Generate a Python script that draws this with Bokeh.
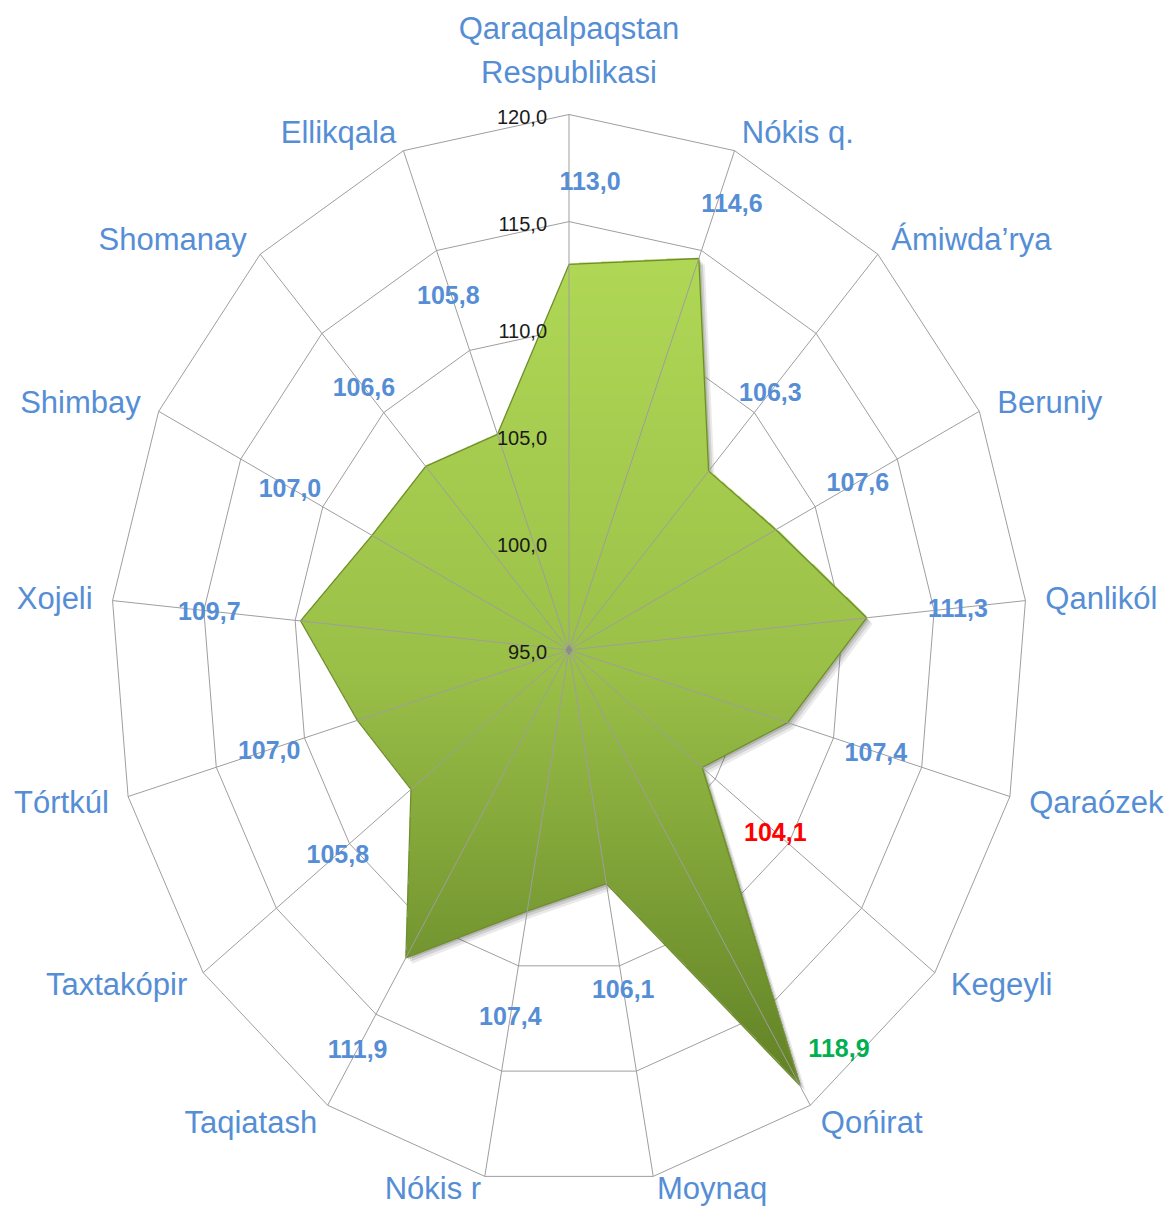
import numpy as np
from bokeh.plotting import figure
from bokeh.models import ColumnDataSource, Range1d
from bokeh.core.properties import value
from bokeh.embed import file_html
from bokeh.resources import INLINE

# ---------------- data ----------------
categories = ["Qaraqalpaqstan\nRespublikasi", "Nókis  q.", "Ámiwda’rya", "Beruniy",
              "Qanlikól", "Qaraózek", "Kegeyli", "Qońirat", "Moynaq", "Nókis r",
              "Taqiatash", "Taxtakópir", "Tórtkúl", "Xojeli", "Shimbay",
              "Shomanay", "Ellikqala"]
values = [113.0, 114.6, 106.3, 107.6, 111.3, 107.4, 104.1, 118.9, 106.1, 107.4,
          111.9, 105.8, 107.0, 109.7, 107.0, 106.6, 105.8]
value_labels = ["113,0", "114,6", "106,3", "107,6", "111,3", "107,4", "104,1", "118,9",
                "106,1", "107,4", "111,9", "105,8", "107,0", "109,7", "107,0",
                "106,6", "105,8"]
ticks = [95, 100, 105, 110, 115, 120]
tick_labels = ["95,0", "100,0", "105,0", "110,0", "115,0", "120,0"]
r_min, r_max = 95, 120

# ---------------- layout / style ----------------
W, H = 1164, 1212
CX, CY = 568.5, 649.5          # centre of radar in canvas pixels
SX, SY = 18.336, 21.42         # pixels per value unit (x, y)
BLUE = "#558ED5"
GRID = "#9E9E9E"
label_colors = [BLUE] * len(values)
label_colors[6] = "#FF0000"
label_colors[7] = "#00B050"
label_moves = {0: (21, 24), 1: (0, 44), 7: (-9, -128), 16: (-16, -39)}

n = len(categories)
theta = 2 * np.pi * np.arange(n) / n
s, c = np.sin(theta), np.cos(theta)
R = r_max - r_min

p = figure(width=W, height=H,
           x_range=Range1d(-CX / SX, (W - CX) / SX),
           y_range=Range1d(-(H - CY) / SY, CY / SY),
           output_backend="svg", toolbar_location=None,
           x_axis_location=None, y_axis_location=None,
           min_border=0, outline_line_color=None, background_fill_color="white")
p.xgrid.grid_line_color = None
p.ygrid.grid_line_color = None

# rings (under the area)
ring_xs, ring_ys = [], []
for t in ticks[1:]:
    rr = t - r_min
    ring_xs.append(list(np.append(rr * s, rr * s[0])))
    ring_ys.append(list(np.append(rr * c, rr * c[0])))
p.multi_line(ring_xs, ring_ys, line_color=GRID, line_width=1)

# polygon
rv = np.array(values) - r_min
px, py = rv * s, rv * c

# shadow
for off, a in [(6, 0.10), (4, 0.14), (2, 0.18)]:
    p.patch(px + off / SX, py - off / SY, fill_color="#303030", fill_alpha=a, line_color=None)

# gradient fill as image
xmin, xmax, ymin, ymax = px.min(), px.max(), py.min(), py.max()
nx = int((xmax - xmin) * SX) + 1
ny = int((ymax - ymin) * SY) + 1
gx = xmin + (np.arange(nx) + 0.5) / nx * (xmax - xmin)
gy = ymin + (np.arange(ny) + 0.5) / ny * (ymax - ymin)
GX, GY = np.meshgrid(gx, gy)
inside = np.zeros(GX.shape, dtype=bool)
j = n - 1
for i in range(n):
    yi, yj, xi, xj = py[i], py[j], px[i], px[j]
    cond = ((yi > GY) != (yj > GY))
    xint = (xj - xi) * (GY - yi) / ((yj - yi) if yj != yi else 1e-12) + xi
    inside ^= cond & (GX < xint)
    j = i
tpos = (ymax - GY) / (ymax - ymin)
stops = [0.0, 0.5, 1.0]
cols = np.array([[176, 216, 86], [155, 192, 72], [98, 130, 38]])
img = np.zeros((ny, nx), dtype=np.uint32)
view = img.view(dtype=np.uint8).reshape((ny, nx, 4))
for k in range(3):
    view[:, :, k] = np.interp(tpos, stops, cols[:, k]).astype(np.uint8)
view[:, :, 3] = np.where(inside, 255, 0).astype(np.uint8)
p.image_rgba(image=[img], x=xmin, y=ymin, dw=xmax - xmin, dh=ymax - ymin)

p.patch(px, py, fill_color=None, line_color="#6F8F2C", line_width=1.3)

# spokes (over the area)
p.segment(x0=np.zeros(n), y0=np.zeros(n), x1=R * s, y1=R * c, line_color=GRID, line_width=1)
p.scatter([0], [0], marker="diamond", size=9, color="#8C8C8C")

# tick labels
tsrc = ColumnDataSource(dict(x=[0] * len(ticks), y=[t - r_min for t in ticks], text=tick_labels))
p.text(x="x", y="y", text="text", source=tsrc, x_offset=-22, y_offset=2,
       text_align="right", text_baseline="middle", text_color="#1A1A1A",
       text_font=value("Liberation Sans Narrow, Liberation Sans"), text_font_size="20px")

# data labels
lr = rv + 5
xo = [label_moves.get(i, (0, 0))[0] for i in range(n)]
yo = [label_moves.get(i, (0, 0))[1] for i in range(n)]
dsrc = ColumnDataSource(dict(x=lr * s, y=lr * c, text=value_labels, color=label_colors, xo=xo, yo=yo))
p.text(x="x", y="y", text="text", source=dsrc, x_offset="xo", y_offset="yo",
       text_align="center", text_baseline="middle", text_color="color",
       text_font=value("Liberation Sans"), text_font_style="bold", text_font_size="25px")

# category labels
aligns, bases, cxo, cyo = [], [], [], []
for i in range(n):
    if abs(s[i]) < 0.01:
        aligns.append("center")
        bases.append("bottom" if c[i] > 0 else "top")
        cxo.append(0)
        cyo.append(-24 if c[i] > 0 else 20)
    else:
        aligns.append("left" if s[i] > 0 else "right")
        bases.append("middle")
        cxo.append(20 * s[i])
        cyo.append(12 if c[i] < -0.95 else -20 * c[i])
csrc = ColumnDataSource(dict(x=R * s, y=R * c, text=categories, align=aligns, base=bases, xo=cxo, yo=cyo))
p.text(x="x", y="y", text="text", source=csrc, x_offset="xo", y_offset="yo",
       text_align="align", text_baseline="base", text_color=BLUE,
       text_font=value("Liberation Sans"), text_font_size="31px", text_line_height=1.26)

open("out.html", "w").write(file_html(p, INLINE))
